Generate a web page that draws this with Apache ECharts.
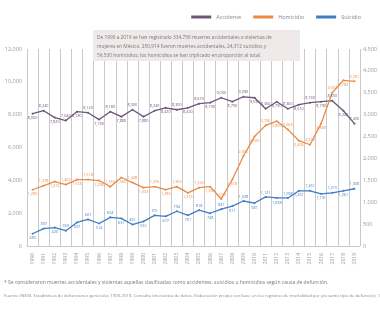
<!DOCTYPE html>
<html><head><meta charset="utf-8">
<script src="https://cdn.jsdelivr.net/npm/echarts@6/dist/echarts.min.js"></script>
<style>html,body{margin:0;padding:0;background:#fff}#c{width:380px;height:309px}</style>
</head><body><div id="c"></div>
<script>
var years = ['1990','1991','1992','1993','1994','1995','1996','1997','1998','1999','2000','2001','2002','2003','2004','2005','2006','2007','2008','2009','2010','2011','2012','2013','2014','2015','2016','2017','2018','2019'];
var accidente = [8060,8240,7820,7640,8180,8120,7700,8180,7880,8300,7880,8240,8420,8300,8420,8670,8730,9030,8790,9090,9030,8360,8790,8360,8610,8730,8790,8850,8240,7450];
var homicidio = [1285,1378,1472,1402,1518,1518,1495,1355,1565,1448,1332,1355,1285,1355,1215,1332,1355,1075,1518,2055,2500,2756,2850,2663,2406,2313,2800,3504,3784,3761];
var suicidio = [280,397,420,350,537,607,514,654,631,491,561,701,677,794,701,818,748,841,911,1028,981,1121,1098,1098,1261,1261,1191,1215,1261,1308];
var leftTicks = {min:0, max:12000, interval:2000};
var rightTicks = {min:0, max:4500, interval:500};
var seriesNames = ['Accidente','Homicidio','Suicidio'];
var colors = ['#6a5677','#ea8a45','#3f7cc4'];
var note = 'De 1990 a 2019 se han registrado 334,756 muertes accidentales o violentas de\nmujeres en México. 250,914 fueron muertes accidentales, 24,312 suicidios y\n59,530 homicidios; los homicidios se han triplicado en proporción al total.';
var foot1 = '* Se consideraron muertes accidentales y violentas aquellas clasificadas como accidentes, suicidios u homicidios según causa de defunción.';
var foot2 = 'Fuente: INEGI. Estadísticas de defunciones generales 1990-2019. Consulta interactiva de datos. Elaboración propia con base en los registros de mortalidad por presunto tipo de defunción, 1990-2019.';

function fmt(v){return v.toLocaleString('en-US');}
function mk(arr){
  return arr.map(function(v,i){
    return {value:v, label:{position:(i%2===0)?'bottom':'top'}};
  });
}
var chart = echarts.init(document.getElementById('c'));
function lineSeries(name, data, color, yIdx){
  return {
    name:name, type:'line', yAxisIndex:yIdx, data:mk(data),
    symbol:'circle', symbolSize:2, showSymbol:true,
    lineStyle:{color:color, width:1.3}, itemStyle:{color:color},
    label:{show:true, fontSize:3.8, color:color, distance:1.5, formatter:function(p){return fmt(p.value);}},
    z:3
  };
}
chart.setOption({
  animation:false,
  textStyle:{fontFamily:'Open Sans'},
  legend:{
    top:9, right:14, itemWidth:20, itemHeight:3, itemGap:12, icon:'rect',
    textStyle:{fontSize:5.5, color:'#888'},
    data:seriesNames
  },
  graphic:[
    {type:'rect', shape:{x:93, y:30, width:207, height:31}, style:{fill:'#efe9ea'}, z:10},
    {type:'text', left:97, top:33, z:11, style:{text:note, fontSize:4.8, lineHeight:9, fill:'#777', fontFamily:'Open Sans'}},
    {type:'text', left:4, top:280, z:11, style:{text:foot1, fontSize:5, fill:'#777', fontFamily:'Open Sans'}},
    {type:'text', left:4, top:294, z:11, style:{text:foot2, fontSize:4.3, fill:'#888', fontFamily:'Open Sans'}}
  ],
  grid:{left:27, right:13, top:49, bottom:63, containLabel:false},
  xAxis:{
    type:'category', data:years, boundaryGap:true,
    axisLine:{lineStyle:{color:'#ccc'}}, axisTick:{show:false},
    axisLabel:{rotate:90, fontSize:5, color:'#999', margin:7, interval:0},
    splitLine:{show:true, interval:0, lineStyle:{color:'#c9c9c9', width:1}}
  },
  yAxis:[
    {type:'value', min:leftTicks.min, max:leftTicks.max, interval:leftTicks.interval,
     axisLine:{show:false}, axisTick:{show:false}, splitLine:{show:false},
     axisLabel:{fontSize:5.5, color:'#999', margin:5, formatter:function(v){return fmt(v);}}},
    {type:'value', min:rightTicks.min, max:rightTicks.max, interval:rightTicks.interval,
     axisLine:{show:false}, axisTick:{show:false}, splitLine:{show:false},
     axisLabel:{fontSize:5.5, color:'#999', margin:3, formatter:function(v){return fmt(v);}}}
  ],
  series:[
    lineSeries(seriesNames[0], accidente, colors[0], 0),
    lineSeries(seriesNames[1], homicidio, colors[1], 1),
    lineSeries(seriesNames[2], suicidio, colors[2], 1)
  ]
});
</script></body></html>
